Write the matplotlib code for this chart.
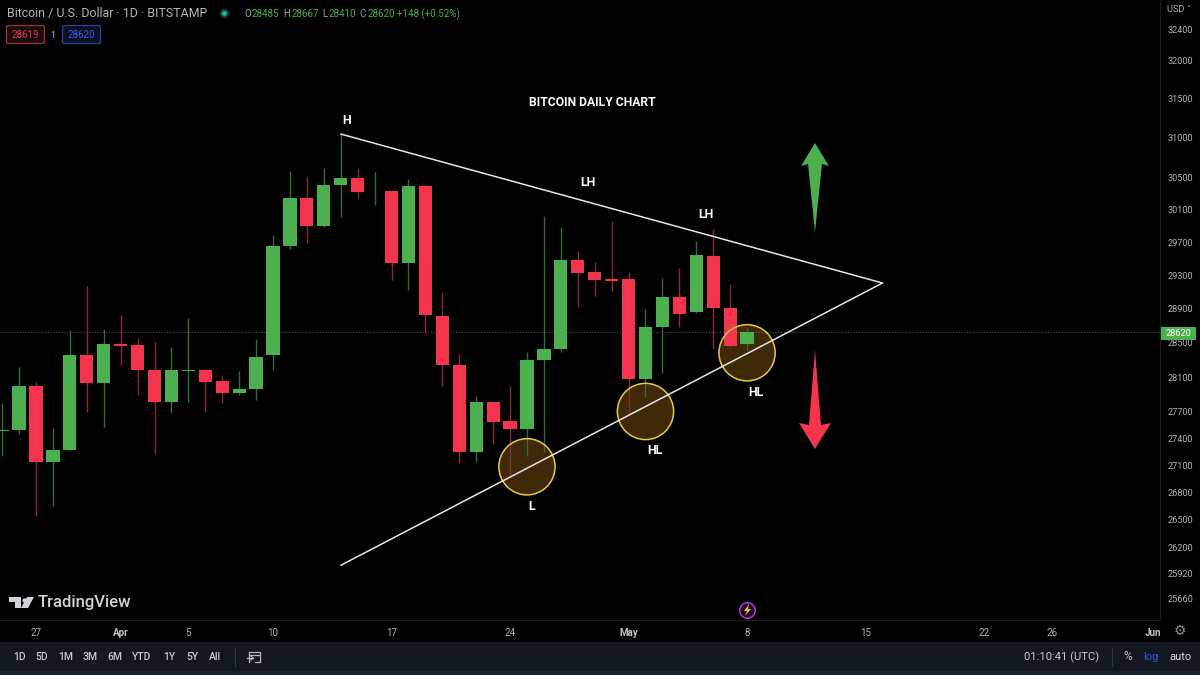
# -*- coding: utf-8 -*-
import matplotlib
matplotlib.use("Agg")
import matplotlib.pyplot as plt
from matplotlib.patches import Rectangle, Polygon, FancyBboxPatch

plt.rcParams['font.family'] = ['Roboto', 'DejaVu Sans']

# days counted from 27 Mar, one candle a day
days = list(range(-2, 43))
opens = [27490, 27492, 27992, 27139, 27266, 28351, 28031, 28479, 28471, 28177, 27815, 28175,
         28181, 28050, 27918, 27961, 28351, 29647, 30244, 29900, 30407, 30494, 30318, 30325,
         29442, 30387, 28809, 28235, 27247, 27819, 27593, 27510, 28296, 28420, 29482, 29338,
         29250, 29250, 28073, 28679, 29036, 28856, 29533, 28907, 28485]
closes = [27500, 28000, 27139, 27266, 28351, 28031, 28479, 28456, 28184, 27808, 28177, 28185,
          28046, 27918, 27968, 28335, 29647, 30237, 29897, 30403, 30494, 30320, 30322, 29442,
          30387, 28821, 28235, 27247, 27811, 27585, 27503, 28296, 28424, 29482, 29326, 29241,
          29230, 28073, 28679, 29033, 28840, 29542, 28907, 28462, 28620]
highs = [27803, 28219, 28046, 27514, 28648, 29169, 28656, 28821, 28550, 28510, 28447, 28785,
         28181, 28111, 28173, 28546, 29790, 30574, 30499, 30611, 31046, 30619, 30561, 30325,
         30482, 30415, 29101, 28366, 27884, 27819, 28000, 28392, 30019, 29888, 29594, 29461,
         29958, 29334, 28891, 29269, 29382, 29718, 29861, 29193, 28667]
lows = [27206, 27450, 26541, 26650, 27266, 27702, 27532, 28235, 27892, 27232, 27684, 27815,
        27702, 27797, 27892, 27834, 28181, 29611, 29684, 29888, 30004, 30245, 30151, 29241,
        29121, 28609, 28000, 27122, 27133, 27337, 26973, 27203, 27250, 28392, 28915, 29053,
        29113, 27684, 27872, 28143, 28687, 28844, 28420, 28450, 28410]

y_ticks = [32400, 32000, 31500, 31000, 30500, 30100, 29700, 29300, 28900, 28500, 28100, 27700,
           27400, 27100, 26800, 26500, 26200, 25920, 25660]
x_ticks = [0, 5, 9, 14, 21, 28, 35, 42, 49, 56, 60, 66]
x_labels = ['27', 'Apr', '5', '10', '17', '24', 'May', '8', '15', '22', '26', 'Jun']

last_price = 28620
upper_days, upper_prices = [18, 50], [31046, 29205]
lower_days, lower_prices = [18, 50], [26011, 29205]
circle_days = [29, 36, 42]
circle_prices = [27084, 27706, 28381]

RED = '#f5344e'
GREEN = '#4caf50'
RED_W = '#8c2a3a'
GREEN_W = '#356b3c'
GREY = '#b0b3ba'

fig = plt.figure(figsize=(12, 6.75), dpi=100, facecolor='black')
ax = fig.add_axes([0, 55 / 675, 1160 / 1200, 620 / 675], facecolor='black')
ax.set_yscale('log')
ax.set_xlim(-2.126, 66.39)
ax.set_ylim(25434, 32801)

# circles go under the candles
ax.scatter(circle_days, circle_prices, s=1640, facecolor=(1, 0.65, 0.15, 0.25), edgecolor='none', zorder=1.5)
ax.scatter(circle_days, circle_prices, s=1640, facecolor='none', edgecolor='#e3cb45', linewidth=1.1, zorder=5)

# candles
up = [c >= o for o, c in zip(opens, closes)]
ax.vlines(days, lows, highs, colors=[GREEN_W if u else RED_W for u in up], linewidth=1, zorder=2)
ax.bar(days, [abs(c - o) for o, c in zip(opens, closes)], width=0.78,
       bottom=[min(o, c) for o, c in zip(opens, closes)],
       color=[GREEN if u else RED for u in up], linewidth=0, zorder=3)

# last price line
ax.axhline(last_price, color='#4a4d40', linewidth=0.8, linestyle=(0, (1, 1.5)), zorder=1)

# triangle
ax.plot(upper_days, upper_prices, color='#e6e6e6', linewidth=1.1, zorder=6, solid_capstyle='round')
ax.plot(lower_days, lower_prices, color='#e6e6e6', linewidth=1.1, zorder=6, solid_capstyle='round')

# axes
ax.yaxis.tick_right()
ax.set_yticks(y_ticks, [str(t) for t in y_ticks])
ax.minorticks_off()
ax.set_xticks(x_ticks, x_labels)
ax.tick_params(axis='y', length=0, pad=5.5, labelsize=6.6, labelcolor=GREY)
ax.tick_params(axis='x', length=0, pad=6, labelsize=7, labelcolor=GREY)
for lab in ax.get_xticklabels():
    if lab.get_text() in ('Apr', 'May', 'Jun'):
        lab.set_fontweight('bold')
        lab.set_color('#c4c6cc')
for side in ('top', 'left'):
    ax.spines[side].set_visible(False)
for side in ('right', 'bottom'):
    ax.spines[side].set_color('#1c1c1e')
    ax.spines[side].set_linewidth(0.8)

# overlay in pixels for the page furniture
ov = fig.add_axes([0, 0, 1, 1])
ov.set_xlim(0, 1200)
ov.set_ylim(675, 0)
ov.axis('off')
ov.patch.set_alpha(0)

# header
ov.text(7, 13, 'Bitcoin / U.S. Dollar · 1D · BITSTAMP', color='#b4b7be', fontsize=8.9, va='center')
ov.scatter([224], [13], s=45, color='#0f3f38', linewidth=0)
ov.scatter([224], [13], s=13, color='#22b39a', linewidth=0)
for x, letter, value in [(244, 'O', '28485'), (283, 'H', '28667'), (322.5, 'L', '28410'), (359, 'C', '28620')]:
    ov.text(x, 14, letter, color='#a0a3aa', fontsize=7, va='center')
    ov.text(x + (8 if letter != 'L' else 6), 14, value, color=GREEN, fontsize=7, va='center')
ov.text(397, 14, '+148 (+0.52%)', color=GREEN, fontsize=7, va='center')

ov.add_patch(FancyBboxPatch((6.5, 25.5), 38, 18, boxstyle='round,pad=0,rounding_size=2',
                            facecolor='#1a0d10', edgecolor='#a82c3c', linewidth=0.9))
ov.text(25.5, 35, '28619', color='#e8304a', fontsize=7, ha='center', va='center')
ov.text(53, 35, '1', color='#c8c8c8', fontsize=6.5, ha='center', va='center')
ov.add_patch(FancyBboxPatch((62.5, 25.5), 38, 18, boxstyle='round,pad=0,rounding_size=2',
                            facecolor='#0c1122', edgecolor='#24479c', linewidth=0.9))
ov.text(81.5, 35, '28620', color='#2f62e8', fontsize=7, ha='center', va='center')

ov.text(1179.5, 10, 'USD ˅', color=GREY, fontsize=6.6, ha='center', va='center')

# last price tag
ov.add_patch(Rectangle((1161, 326.5), 35, 13, facecolor=GREEN, edgecolor='none', zorder=8))
ov.text(1178.5, 333, '28620', color='white', fontsize=6.6, ha='center', va='center', zorder=9)

# chart labels
ov.text(592, 103, 'BITCOIN DAILY CHART', color='white', fontsize=8.7, fontweight='bold', ha='center', va='center')
for x, y, s in [(347, 120, 'H'), (588, 183, 'LH'), (706, 215, 'LH'), (655, 450, 'HL'), (756, 393, 'HL'), (532, 507, 'L')]:
    ov.text(x, y, s, color='white', fontsize=8.8, fontweight='bold', ha='center', va='center', zorder=10)

# arrows
ov.add_patch(Polygon([(815, 143), (829, 166), (822, 164), (815, 232), (808, 164), (801, 166)],
                     closed=True, facecolor=GREEN, edgecolor='none'))
ov.add_patch(Polygon([(815, 350), (821, 425), (831, 423), (815, 449), (799, 423), (809, 425)],
                     closed=True, facecolor=RED, edgecolor='none'))

# watermark
logo = '#d2d3d6'
ov.add_patch(Polygon([(9, 597), (21, 597), (21, 608), (15, 608), (15, 602), (9, 602)], closed=True, facecolor=logo, edgecolor='none'))
ov.scatter([24], [599.5], s=9, color=logo, linewidth=0)
ov.add_patch(Polygon([(27, 597), (34, 597), (28, 608), (21, 608)], closed=True, facecolor=logo, edgecolor='none'))
ov.text(38, 603, 'TradingView', color=logo, fontsize=12, fontweight='medium', va='center')

# lightning badge
ov.scatter([747], [610], s=125, facecolor='#1c0a24', edgecolor='#b03ad0', linewidth=1.1)
ov.add_patch(Polygon([(749, 604), (744, 611), (747, 611), (745, 616), (751, 609), (748, 609)], closed=True, facecolor='#e0c040', edgecolor='none'))

# gear
ov.text(1180, 631, '⚙', family='DejaVu Sans', color='#8a8d94', fontsize=10, ha='center', va='center')

# bottom toolbar
ov.add_patch(Rectangle((0, 642), 1200, 33, facecolor='#131722', edgecolor='none'))
ov.add_patch(Rectangle((0, 671), 1200, 4, facecolor='#1c2029', edgecolor='none'))
for x, s in [(19, '1D'), (42, '5D'), (66, '1M'), (90.5, '3M'), (115, '6M'), (142, 'YTD'), (169, '1Y'), (192, '5Y'), (215, 'All')]:
    ov.text(x, 657, s, color='#c6c9d0', fontsize=7.5, fontweight='medium', ha='center', va='center')
ov.plot([235, 235], [648, 666], color='#30343e', linewidth=0.8)
ov.plot([1112, 1112], [648, 666], color='#30343e', linewidth=0.8)
# calendar icon
ov.plot([249, 249, 260, 260, 255], [662, 652, 652, 662, 662], color='#b4b7be', linewidth=0.9)
ov.plot([249, 260], [655, 655], color='#b4b7be', linewidth=0.9)
ov.plot([247, 253], [658, 658], color='#b4b7be', linewidth=0.9)
ov.plot([251, 253, 251], [656, 658, 660], color='#b4b7be', linewidth=0.9)

ov.text(1062, 657, '01:10:41 (UTC)', color='#c6c9d0', fontsize=8.1, ha='center', va='center')
ov.text(1127.5, 657, '%', color='#c6c9d0', fontsize=8.5, ha='center', va='center')
ov.text(1151, 657, 'log', color='#2a5fe0', fontsize=8, ha='center', va='center')
ov.text(1180, 657, 'auto', color='#d8dae0', fontsize=8, ha='center', va='center')

fig.savefig('out.png', dpi=100, facecolor='black')
